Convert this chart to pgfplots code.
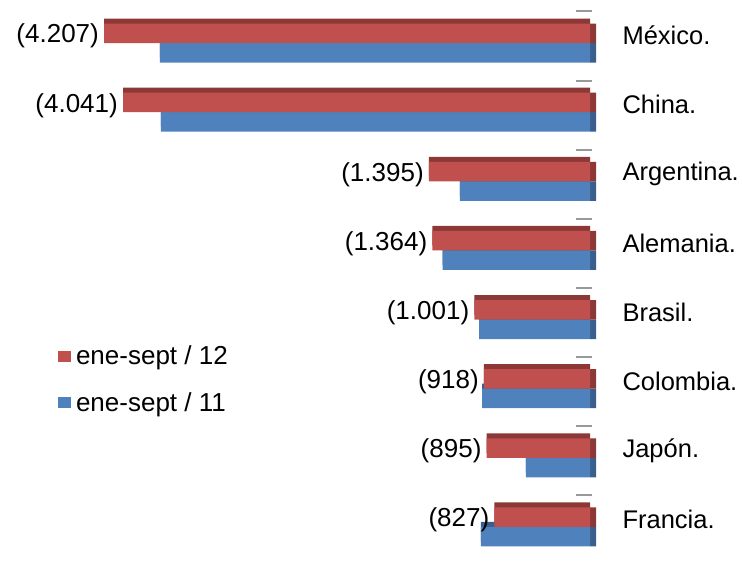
\documentclass[border=0pt]{standalone}
\usepackage{fontspec}
\setmainfont{Liberation Sans}
\usepackage{pgfplots}
\usepackage{pgfplotstable}
\pgfplotsset{compat=1.18}
\definecolor{r12}{HTML}{C0504D}
\definecolor{r12d}{HTML}{8C3836}
\definecolor{b11}{HTML}{4F81BD}
\definecolor{b11d}{HTML}{3A5F8C}
\pgfplotstableread{
y v12 v11 side lab
0 -4207 -3723 52 (4.207)
1 -4043 -3715 52 (4.041)
2 -1395 -1127 52 (1.395)
3 -1364 -1275 52 (1.364)
4 -1001 -960 52 (1.001)
5 -918 -935 52 (918)
6 -895 -555 52 (895)
7 -827 -945 52 (827)
}\datatable
\begin{document}
\begin{tikzpicture}
\useasboundingbox (0pt,0pt) rectangle (742pt,563pt);
\begin{axis}[
  at={(0pt,0pt)}, anchor=south west,
  scale only axis, width=596pt, height=563pt,
  xmin=-5108, xmax=52, ymin=-0.622, ymax=7.521, y dir=reverse,
  hide x axis,
  axis y line*=right, y axis line style={draw=none},
  ytick={0,...,7},
  yticklabels={México.,China.,Argentina.,Alemania.,Brasil.,Colombia.,Japón.,Francia.},
  major tick length=0pt,
  extra y ticks={-0.456,0.544,1.544,2.544,3.544,4.544,5.544,6.544}, extra y tick labels={},
  extra y tick style={major tick length=16pt, tick align=inside,
     tick style={draw=black!40, line width=2pt, xshift=-4pt}},
  yticklabel style={anchor=west, xshift=23pt, yshift=7.5pt, font=\fontsize{25.5}{30}\selectfont},
  xbar, bar width=19.5pt,
  legend style={at={(0.092,0.393)}, anchor=north west, draw=none, fill=none,
     font=\fontsize{26}{31}\selectfont, row sep=22pt},
  legend cell align=left, reverse legend,
  legend image code/.code={\fill[#1] (0pt,-5.5pt) rectangle (13pt,5.5pt); \path (16pt,0pt);},
]
\addplot[forget plot, fill=b11d, draw=none, bar shift=-4.75pt] table[x=v11, y=y] {\datatable};
\addplot[forget plot, fill=b11d, draw=none, bar shift=-9.75pt] table[x=side, y=y] {\datatable};
\addplot[fill=b11, draw=none, bar shift=-9.75pt] table[x=v11, y=y] {\datatable};
\addlegendentry{ene-sept / 11}
\addplot[forget plot, fill=r12d, draw=none, bar shift=14.75pt] table[x=v12, y=y] {\datatable};
\addplot[forget plot, fill=r12d, draw=none, bar shift=9.75pt] table[x=side, y=y] {\datatable};
\addplot[fill=r12, draw=none, bar shift=9.75pt,
  nodes near coords, point meta=explicit symbolic,
  nodes near coords style={anchor=east, text=black, font=\fontsize{26}{31}\selectfont, inner sep=5pt, yshift=-3pt}]
  table[x=v12, y=y, meta=lab] {\datatable};
\addlegendentry{ene-sept / 12}
\end{axis}
\end{tikzpicture}
\end{document}
